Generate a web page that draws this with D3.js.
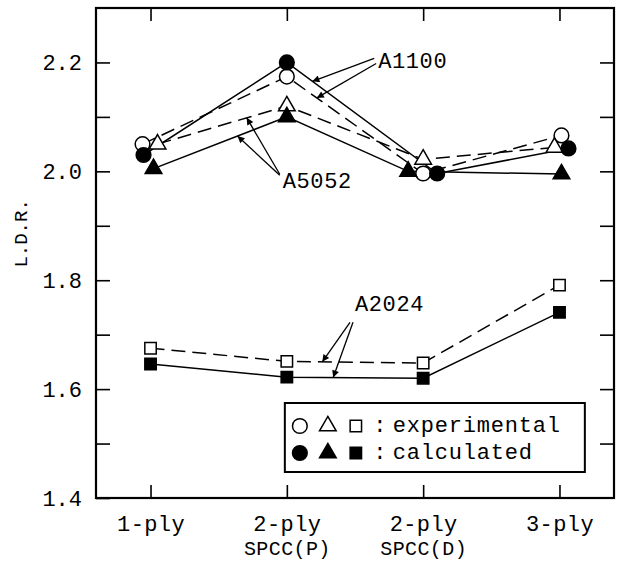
<!DOCTYPE html>
<html>
<head>
<meta charset="UTF-8">
<title>L.D.R. by lamination</title>
<script src="https://cdnjs.cloudflare.com/ajax/libs/d3/7.8.5/d3.min.js"></script>
<style>
  body { margin: 0; background: #fff; }
  text { font-family: "Liberation Mono", "DejaVu Sans Mono", monospace; fill: #000; }
</style>
</head>
<body>
<script>
// categories and tick labels
var categories = ["1-ply", "2-ply P", "2-ply D", "3-ply"];
var tickMain = ["1-ply", "2-ply", "2-ply", "3-ply"];
var tickSub = ["", "SPCC(P)", "SPCC(D)", ""];
var yTicks = [1.4, 1.5, 1.6, 1.7, 1.8, 1.9, 2.0, 2.1, 2.2, 2.3];

// L.D.R. values
var a1100Exp  = [2.05, 2.174, 1.996, 2.066];
var a1100Calc = [2.03, 2.20, 1.996, 2.042];
var a5052Exp  = [2.05, 2.12, 2.022, 2.044];
var a5052Calc = [2.005, 2.10, 2.0, 1.995];
var a2024Exp  = [1.675, 1.651, 1.648, 1.791];
var a2024Calc = [1.646, 1.622, 1.620, 1.741];

// small sideways nudges the original uses where symbols overlap (px)
var nudge = {
  a1100Exp:  [-8, 0, 0, 2],
  a1100Calc: [-7, 0, 14, 9],
  a5052Exp:  [7, 0, 0, -5],
  a5052Calc: [3, 0, -15, 2],
  a2024Exp:  [0, 0, 0, 0],
  a2024Calc: [0, 0, 0, 0]
};

var series = [
  {key: "a1100Exp",  values: a1100Exp,  shape: "circle",   filled: false},
  {key: "a5052Exp",  values: a5052Exp,  shape: "triangle", filled: false},
  {key: "a2024Exp",  values: a2024Exp,  shape: "square",   filled: false},
  {key: "a1100Calc", values: a1100Calc, shape: "circle",   filled: true},
  {key: "a5052Calc", values: a5052Calc, shape: "triangle", filled: true},
  {key: "a2024Calc", values: a2024Calc, shape: "square",   filled: true}
];

var margin = {top: 8, right: 11, bottom: 74, left: 96},
    width = 625 - margin.left - margin.right,
    height = 572 - margin.top - margin.bottom;

var x = d3.scalePoint().domain(categories).range([0, width]).padding(0.4);
var y = d3.scaleLinear().domain([1.4, 2.3]).range([height, 0]);

var svg = d3.select("body").append("svg")
    .attr("width", 625)
    .attr("height", 572)
  .append("g")
    .attr("transform", "translate(" + margin.left + "," + margin.top + ")");

svg.append("defs").append("marker")
    .attr("id", "arrow")
    .attr("viewBox", "0 0 10 10")
    .attr("refX", 10).attr("refY", 5)
    .attr("markerWidth", 9).attr("markerHeight", 7)
    .attr("markerUnits", "userSpaceOnUse")
    .attr("orient", "auto")
  .append("path")
    .attr("d", "M0,0L10,5L0,10z")
    .attr("fill", "#000");

function fmt(d) {
  var r = Math.round(d * 10);
  return r % 2 === 0 ? d.toFixed(1) : "";
}

// axes on all four sides, ticks pointing inward
var yl = svg.append("g")
    .call(d3.axisLeft(y).tickValues(yTicks.slice(0, -1)).tickSize(-14).tickPadding(14).tickFormat(fmt));
svg.append("g")
    .attr("transform", "translate(" + width + ",0)")
    .call(d3.axisRight(y).tickValues(yTicks.slice(1, -1)).tickSize(-14).tickFormat(""));
var xb = svg.append("g")
    .attr("transform", "translate(0," + height + ")")
    .call(d3.axisBottom(x).tickSize(-13).tickPadding(17).tickFormat(function(d, i) { return tickMain[i]; }));
svg.append("g")
    .call(d3.axisTop(x).tickSize(-13).tickFormat(""));

svg.selectAll(".domain").remove();
svg.selectAll(".tick line").attr("stroke", "#000").attr("stroke-width", 1.6);
yl.selectAll("text").style("font-size", "22px");
xb.selectAll("text").style("font-size", "22px").style("letter-spacing", "0.4px");
xb.selectAll(".tick").append("text")
    .attr("y", 57)
    .attr("text-anchor", "middle")
    .style("font-size", "20px")
    .style("letter-spacing", "0.4px")
    .text(function(d, i) { return tickSub[i]; });

svg.append("rect")
    .attr("width", width).attr("height", height)
    .attr("fill", "none").attr("stroke", "#000").attr("stroke-width", 2.2);

svg.append("text")
    .attr("transform", "translate(-74," + (height * 0.46) + ") rotate(-90)")
    .attr("text-anchor", "middle")
    .attr("dominant-baseline", "middle")
    .style("font-size", "19px")
    .text("L.D.R.");

function px(s, i) { return x(categories[i]) + nudge[s.key][i]; }

// lines
var line = function(s) {
  return d3.line()
    .x(function(d, i) { return px(s, i); })
    .y(function(d) { return y(d); })(s.values);
};

svg.selectAll(".series")
    .data(series)
  .enter().append("path")
    .attr("d", line)
    .attr("fill", "none")
    .attr("stroke", "#000")
    .attr("stroke-width", 1.5)
    .attr("stroke-dasharray", function(s) { return s.filled ? null : "14,7"; });

// symbols
var symbolPath = {
  circle: d3.symbol().type(d3.symbolCircle).size(170)(),
  triangle: d3.symbol().type(d3.symbolTriangle).size(120)(),
  square: d3.symbol().type(d3.symbolSquare).size(130)()
};

series.forEach(function(s) {
  svg.append("g").selectAll("path")
      .data(s.values)
    .enter().append("path")
      .attr("transform", function(d, i) { return "translate(" + px(s, i) + "," + y(d) + ")"; })
      .attr("d", symbolPath[s.shape])
      .attr("fill", s.filled ? "#000" : "#fff")
      .attr("stroke", "#000")
      .attr("stroke-width", 1.5);
});

// annotation labels with arrows to the line segments
function along(s, i, t) {
  return [px(s, i) + (px(s, i + 1) - px(s, i)) * t,
          y(s.values[i]) + (y(s.values[i + 1]) - y(s.values[i])) * t];
}
function at(idx, v) {
  return [x(categories[0]) + idx * x.step(), y(v)];
}
var byKey = {};
series.forEach(function(s) { byKey[s.key] = s; });

var notes = [
  {text: "A1100", pos: at(1.67, 2.2), arrows: [
    {from: [-4, -4], s: "a1100Calc", seg: 1, t: 0.17},
    {from: [-2, 1], s: "a1100Exp", seg: 1, t: 0.22}]},
  {text: "A5052", pos: at(0.97, 1.98), arrows: [
    {from: [-3, -7], s: "a5052Calc", seg: 0, t: 0.63},
    {from: [-3, -8], s: "a5052Exp", seg: 0, t: 0.69}]},
  {text: "A2024", pos: at(1.50, 1.754), arrows: [
    {from: [-5, 17], s: "a2024Exp", seg: 1, t: 0.26},
    {from: [-2, 17], s: "a2024Calc", seg: 1, t: 0.34}]}
];

notes.forEach(function(n) {
  svg.append("text")
      .attr("x", n.pos[0]).attr("y", n.pos[1])
      .attr("dominant-baseline", "middle")
      .style("font-size", "22px")
      .style("letter-spacing", "0.6px")
      .text(n.text);
  n.arrows.forEach(function(a) {
    var tip = along(byKey[a.s], a.seg, a.t);
    svg.append("line")
        .attr("x1", n.pos[0] + a.from[0]).attr("y1", n.pos[1] + a.from[1])
        .attr("x2", tip[0]).attr("y2", tip[1])
        .attr("stroke", "#000").attr("stroke-width", 1.3)
        .attr("marker-end", "url(#arrow)");
  });
});

// legend
var lg = svg.append("g").attr("transform", "translate(" + (x(categories[1]) - 2) + "," + (height - 95) + ")");
lg.append("rect")
    .attr("width", 300).attr("height", 69)
    .attr("fill", "#fff").attr("stroke", "#000").attr("stroke-width", 2);
var legendRows = [
  {label: "experimental", filled: false, y: 23},
  {label: "calculated", filled: true, y: 50}
];
legendRows.forEach(function(r) {
  ["circle", "triangle", "square"].forEach(function(sh, k) {
    lg.append("path")
        .attr("transform", "translate(" + (15 + k * 28) + "," + r.y + ")")
        .attr("d", symbolPath[sh])
        .attr("fill", r.filled ? "#000" : "#fff")
        .attr("stroke", "#000").attr("stroke-width", 1.5);
  });
  lg.append("text")
      .attr("x", 95).attr("y", r.y)
      .attr("text-anchor", "middle")
      .attr("dominant-baseline", "middle")
      .style("font-size", "22px")
      .text(":");
  lg.append("text")
      .attr("x", 108).attr("y", r.y)
      .attr("dominant-baseline", "middle")
      .style("font-size", "22px")
      .style("letter-spacing", "0.8px")
      .text(r.label);
});
</script>
</body>
</html>
